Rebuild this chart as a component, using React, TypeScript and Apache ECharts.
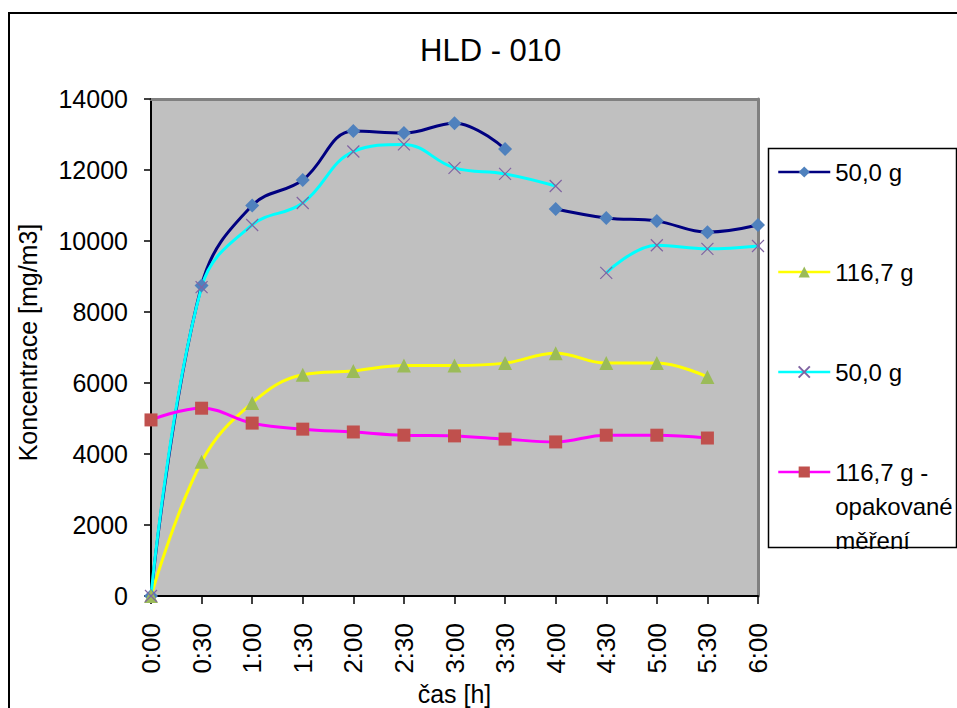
import React, { useEffect, useRef } from 'react';
import * as echarts from 'echarts';

// ---- data ----
const times = ['0:00', '0:30', '1:00', '1:30', '2:00', '2:30', '3:00', '3:30', '4:00', '4:30', '5:00', '5:30', '6:00'];
const seriesNames = ['50,0 g', '116,7 g', '50,0 g', '116,7 g -\nopakované\nměření'];
const navy50: (number | null)[] = [0, 8750, 11000, 11720, 13100, 13040, 13320, 12590, 10900, 10650, 10560, 10250, 10450];
const yellow1167: (number | null)[] = [0, 3780, 5440, 6230, 6340, 6490, 6490, 6560, 6840, 6560, 6560, 6170, null];
const cyan50: (number | null)[] = [0, 8700, 10450, 11070, 12520, 12720, 12060, 11890, 11550, 9100, 9880, 9780, 9860];
const magentaRepeat: (number | null)[] = [4960, 5290, 4870, 4700, 4620, 4530, 4510, 4420, 4340, 4530, 4530, 4450, null];
// the line is interrupted after these category indices
const navyBreakAfter = 7;
const cyanBreakAfter = 8;
const yMin = 0;
const yMax = 14000;
const yStep = 2000;

const FONT = 'Liberation Sans, Arial, sans-serif';

function toPairs(values: (number | null)[], breakAfter?: number) {
  const out: any[] = [];
  values.forEach((v, i) => {
    out.push([i, v]);
    if (breakAfter !== undefined && i === breakAfter) out.push([i + 0.5, null]);
  });
  return out;
}

export default function App() {
  const ref = useRef<HTMLDivElement>(null);
  useEffect(() => {
    if (!ref.current) return;
    const chart = echarts.init(ref.current, undefined, { renderer: 'svg' });
    const ids = ['s1', 's2', 's3', 's4'];
    const legendBase = {
      orient: 'vertical',
      left: 777,
      padding: 0,
      itemWidth: 52,
      itemHeight: 14,
      itemGap: 0,
      selectedMode: false,
      lineStyle: { width: 2.5 },
      textStyle: { fontFamily: FONT, fontSize: 24, color: '#000', lineHeight: 30 },
    };
    const option: any = {
      animation: false,
      backgroundColor: '#fff',
      title: {
        text: 'HLD - 010',
        left: 420,
        top: 35,
        padding: 0,
        textStyle: { fontFamily: FONT, fontSize: 31, fontWeight: 'normal', color: '#000' },
      },
      graphic: [
        {
          type: 'rect',
          shape: { x: 9, y: 13, width: 1000, height: 800 },
          style: { fill: 'none', stroke: '#000', lineWidth: 2 },
          silent: true,
        },
        {
          type: 'rect',
          shape: { x: 768.5, y: 148.5, width: 188, height: 399 },
          style: { fill: '#fff', stroke: '#000', lineWidth: 1.5 },
          silent: true,
        },
      ],
      legend: [
        { ...legendBase, top: 157, data: [ids[0]], formatter: () => seriesNames[0] },
        { ...legendBase, top: 257, data: [ids[1]], formatter: () => seriesNames[1] },
        { ...legendBase, top: 357, data: [ids[2]], formatter: () => seriesNames[2] },
        {
          ...legendBase,
          top: 387,
          data: [ids[3]],
          // two blank lines above keep the first text line level with the icon
          formatter: () => '\n\n' + seriesNames[3],
          textStyle: { ...legendBase.textStyle, lineHeight: 34 },
        },
      ],
      grid: {
        left: 151,
        right: 199,
        top: 99,
        bottom: 112,
        outerBoundsMode: 'none',
        containLabel: false,
        show: true,
        backgroundColor: '#C0C0C0',
        borderWidth: 0,
      },
      xAxis: [
        {
          type: 'value',
          min: 0,
          max: times.length - 1,
          interval: 1,
          name: 'čas [h]',
          nameLocation: 'middle',
          nameGap: 80,
          nameTextStyle: { fontFamily: FONT, fontSize: 25, color: '#000' },
          axisLine: { show: true, onZero: false, lineStyle: { color: '#000', width: 2 } },
          axisTick: { show: true, length: 8, lineStyle: { color: '#000', width: 1.5 } },
          axisLabel: {
            rotate: 90,
            margin: 27,
            fontFamily: FONT,
            fontSize: 26,
            color: '#000',
            formatter: (v: number) => times[Math.round(v)] ?? '',
          },
          splitLine: { show: false },
        },
        {
          type: 'value',
          position: 'top',
          min: 0,
          max: times.length - 1,
          interval: 1,
          axisLine: { show: true, onZero: false, lineStyle: { color: '#808080', width: 3 } },
          axisTick: { show: false },
          axisLabel: { show: false },
          splitLine: { show: false },
        },
      ],
      yAxis: [
        {
          type: 'value',
          min: yMin,
          max: yMax,
          interval: yStep,
          name: 'Koncentrace [mg/m3]',
          nameLocation: 'middle',
          nameRotate: 90,
          nameGap: 111,
          nameTextStyle: { fontFamily: FONT, fontSize: 25, color: '#000', padding: [0, 0, 0, 10] },
          axisLine: { show: true, onZero: false, lineStyle: { color: '#000', width: 2 } },
          axisTick: { show: true, length: 7, lineStyle: { color: '#000', width: 1.5 } },
          axisLabel: {
            margin: 23,
            fontFamily: FONT,
            fontSize: 25,
            color: '#000',
            formatter: (v: number) => String(v),
          },
          splitLine: { show: false },
        },
        {
          type: 'value',
          position: 'right',
          min: yMin,
          max: yMax,
          interval: yStep,
          axisLine: { show: true, onZero: false, lineStyle: { color: '#808080', width: 3 } },
          axisTick: { show: false },
          axisLabel: { show: false },
          splitLine: { show: false },
        },
      ],
      series: [
        {
          id: ids[0],
          name: ids[0],
          type: 'line',
          smooth: 0.4,
          data: toPairs(navy50, navyBreakAfter),
          connectNulls: false,
          symbol: 'diamond',
          symbolSize: 14,
          lineStyle: { color: '#000080', width: 3 },
          itemStyle: { color: '#4F81BD' },
        },
        {
          id: ids[1],
          name: ids[1],
          type: 'line',
          smooth: 0.4,
          data: toPairs(yellow1167),
          symbol: 'triangle',
          symbolSize: 14,
          lineStyle: { color: '#FFFF00', width: 3 },
          itemStyle: { color: '#9BBB59' },
        },
        {
          id: ids[2],
          name: ids[2],
          type: 'line',
          smooth: 0.4,
          data: toPairs(cyan50, cyanBreakAfter),
          connectNulls: false,
          symbol: 'path://M0,0L10,10M0,10L10,0',
          symbolSize: 12,
          lineStyle: { color: '#00FFFF', width: 3 },
          itemStyle: { color: '#8064A2', borderColor: '#8064A2', borderWidth: 1.2 },
        },
        {
          id: ids[3],
          name: ids[3],
          type: 'line',
          smooth: 0.4,
          data: toPairs(magentaRepeat),
          symbol: 'rect',
          symbolSize: 13,
          lineStyle: { color: '#FF00FF', width: 3 },
          itemStyle: { color: '#C0504D' },
        },
      ],
    };
    chart.setOption(option);
    return () => chart.dispose();
  }, []);
  return <div ref={ref} style={{ position: 'fixed', left: 0, top: 0, width: 957, height: 708 }} />;
}
